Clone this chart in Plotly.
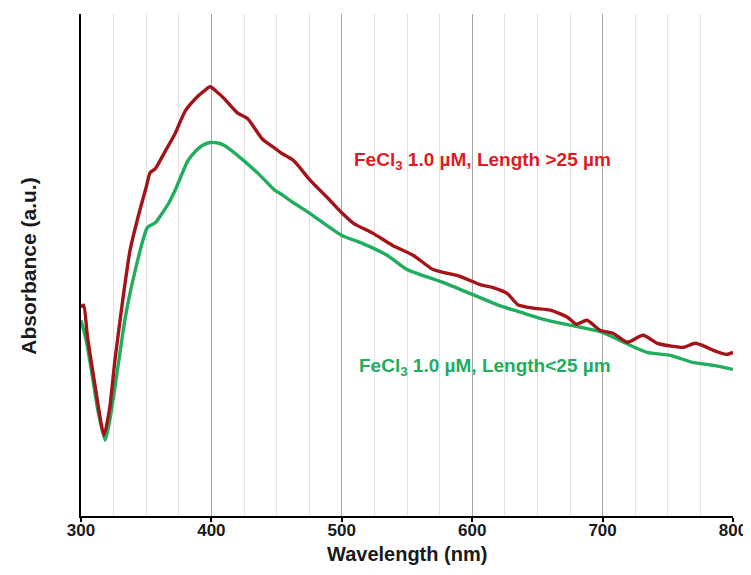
import plotly.graph_objects as go

red_nm = [300, 302, 305, 311, 317.6, 322, 326, 332, 337.6, 345, 350, 353, 357, 364, 372, 380, 390, 395, 399, 405, 410, 420, 428, 439, 449, 453, 463, 476, 489, 500, 509, 524, 539, 555, 570, 590, 606, 616, 627, 635, 647, 660, 673, 680, 688, 698, 708, 719, 731, 742, 754, 762, 771, 780, 785, 795, 800]
red_abs = [0.416, 0.420, 0.356, 0.256, 0.161, 0.215, 0.310, 0.430, 0.529, 0.608, 0.655, 0.684, 0.692, 0.724, 0.761, 0.807, 0.837, 0.848, 0.855, 0.843, 0.831, 0.803, 0.791, 0.751, 0.732, 0.724, 0.708, 0.668, 0.634, 0.604, 0.583, 0.563, 0.539, 0.519, 0.491, 0.478, 0.461, 0.455, 0.443, 0.421, 0.414, 0.410, 0.396, 0.382, 0.390, 0.370, 0.364, 0.346, 0.360, 0.344, 0.338, 0.336, 0.344, 0.336, 0.330, 0.322, 0.326]

green_nm = [300, 304, 308, 313, 318.5, 322, 326, 334, 341, 351, 357, 362, 367, 372, 382, 388, 393, 399, 405, 410, 423, 436, 449, 453, 463, 476, 500, 514, 535, 550, 580, 606, 621, 637, 657, 683, 700, 713, 734, 752, 769, 785, 800]
green_abs = [0.390, 0.350, 0.290, 0.210, 0.151, 0.190, 0.256, 0.396, 0.483, 0.575, 0.584, 0.602, 0.622, 0.648, 0.708, 0.727, 0.738, 0.744, 0.743, 0.738, 0.712, 0.682, 0.648, 0.642, 0.624, 0.602, 0.559, 0.545, 0.519, 0.491, 0.463, 0.435, 0.419, 0.406, 0.390, 0.376, 0.366, 0.350, 0.326, 0.320, 0.306, 0.300, 0.292]

red_label = "FeCl<sub>3</sub> 1.0 µM, Length >25 µm"
green_label = "FeCl<sub>3</sub> 1.0 µM, Length<25 µm"
x_title = "Wavelength (nm)"
y_title = "Absorbance (a.u.)"
x_ticks = [300, 400, 500, 600, 700, 800]

FONT = "Liberation Sans, Arial, sans-serif"
TXT = "#1a1a1a"

fig = go.Figure()
fig.add_trace(go.Scatter(x=green_nm, y=green_abs, mode="lines", line_shape="spline",
                         line=dict(color="#20ad5e", width=3.4, smoothing=0.6), showlegend=False))
fig.add_trace(go.Scatter(x=red_nm, y=red_abs, mode="lines", line_shape="spline",
                         line=dict(color="#a31419", width=3.4, smoothing=0.6), showlegend=False))

fig.add_annotation(x=608, y=0.708, xref="x", yref="y", text=red_label, showarrow=False,
                   font=dict(family=FONT, size=19, color="#dc1c24", weight="bold"))
fig.add_annotation(x=610, y=0.296, xref="x", yref="y", text=green_label, showarrow=False,
                   font=dict(family=FONT, size=19, color="#20ad5e", weight="bold"))
fig.add_annotation(x=0.5, y=-0.076, xref="paper", yref="paper", text=x_title, showarrow=False,
                   xanchor="center", yanchor="middle",
                   font=dict(family=FONT, size=20, color=TXT, weight="bold"))
fig.add_annotation(x=-0.081, y=0.497, xref="paper", yref="paper", text=y_title, showarrow=False,
                   textangle=-90, xanchor="center", yanchor="middle",
                   font=dict(family=FONT, size=21, color=TXT, weight="bold"))

fig.update_layout(
    width=743, height=567,
    margin=dict(l=73, r=18, t=6, b=59, autoexpand=False),
    paper_bgcolor="white", plot_bgcolor="white",
    font=dict(family=FONT, color=TXT),
    xaxis=dict(range=[300, 800], tickvals=x_ticks, automargin=False,
               showgrid=True, gridcolor="#a6a6a6", gridwidth=1,
               minor=dict(dtick=25, showgrid=True, gridcolor="#e2e2e2", gridwidth=1),
               showline=True, linecolor="black", linewidth=2, ticks="outside", ticklen=4,
               tickcolor="black", tickwidth=1.5, zeroline=False, ticklabelstandoff=-6,
               tickfont=dict(family=FONT, size=17, color=TXT, weight="bold")),
    yaxis=dict(range=[0, 1.0], showticklabels=False, showgrid=False, zeroline=False,
               automargin=False, showline=True, linecolor="black", linewidth=2, ticks=""),
)

fig.write_html("out.html")
